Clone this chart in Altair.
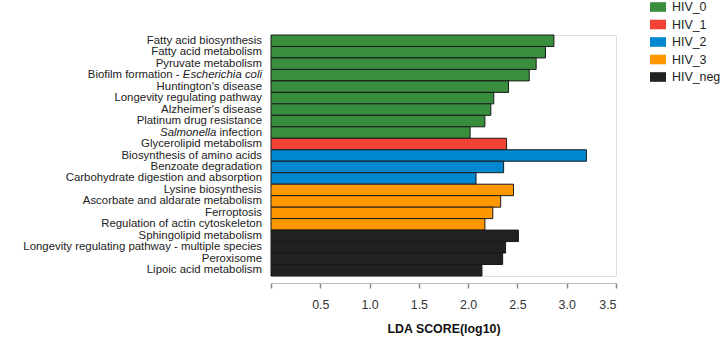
import altair as alt
import pandas as pd

# LEfSe results: pathway, enriched group and LDA score (log10)
pathways = [
    "Fatty acid biosynthesis",
    "Fatty acid metabolism",
    "Pyruvate metabolism",
    "Biofilm formation - Escherichia coli",
    "Huntington's disease",
    "Longevity regulating pathway",
    "Alzheimer's disease",
    "Platinum drug resistance",
    "Salmonella infection",
    "Glycerolipid metabolism",
    "Biosynthesis of amino acids",
    "Benzoate degradation",
    "Carbohydrate digestion and absorption",
    "Lysine biosynthesis",
    "Ascorbate and aldarate metabolism",
    "Ferroptosis",
    "Regulation of actin cytoskeleton",
    "Sphingolipid metabolism",
    "Longevity regulating pathway - multiple species",
    "Peroxisome",
    "Lipoic acid metabolism",
]
groups = (["HIV_0"] * 9 + ["HIV_1"] + ["HIV_2"] * 3 + ["HIV_3"] * 4 + ["HIV_neg"] * 4)
lda_scores = [
    2.87, 2.785, 2.69, 2.62, 2.41, 2.26, 2.23, 2.17, 2.02,
    2.39,
    3.20, 2.36, 2.08,
    2.46, 2.33, 2.25, 2.17,
    2.51, 2.38, 2.35, 2.14,
]

group_names = ["HIV_0", "HIV_1", "HIV_2", "HIV_3", "HIV_neg"]
group_colors = ["#388E3C", "#F44336", "#0288D1", "#FF9800", "#212121"]
tick_values = [0, 0.5, 1.0, 1.5, 2.0, 2.5, 3.0, 3.5]

# label pieces: species names in italics
ecoli_lead, ecoli_tail = "Biofilm formation -", "Escherichia coli"
salm_lead, salm_tail = "Salmonella", "infection"

df = pd.DataFrame({"pathway": pathways, "group": groups, "lda": lda_scores})
df["tail"] = df["pathway"]
df.loc[df["pathway"] == pathways[3], "tail"] = ecoli_tail
df.loc[df["pathway"] == pathways[8], "tail"] = salm_tail
df["tail_italic"] = df["pathway"] == pathways[3]

FONT = "Liberation Sans"
FS = 12.4          # axis and legend text
LFS = 11.4         # pathway labels
W, H = 345, 241
LABEL_X = -9

y_enc = alt.Y("pathway:N", sort=pathways, axis=None,
              scale=alt.Scale(paddingInner=0, paddingOuter=0))

bars = alt.Chart(df).mark_bar(stroke="#1a1a1a", strokeWidth=1).encode(
    x=alt.X(
        "lda:Q",
        scale=alt.Scale(domain=[0, 3.5], nice=False, zero=True),
        axis=alt.Axis(
            values=tick_values,
            labelExpr="datum.value == 0 ? '' : format(datum.value, '.1f')",
            title="LDA SCORE(log10)",
            titleFont=FONT, titleFontSize=FS, titleFontWeight="bold",
            titleColor="#111", titlePadding=12,
            labelFont=FONT, labelFontSize=FS, labelColor="#333",
            labelPadding=10,
            domainColor="#bbbbbb", domainWidth=1.2,
            tickColor="#888888", tickSize=5, tickWidth=1.5,
            grid=False, offset=7,
        ),
    ),
    y=y_enc,
    color=alt.Color(
        "group:N",
        scale=alt.Scale(domain=group_names, range=group_colors),
        legend=alt.Legend(
            title=None, orient="none", legendX=379, legendY=-36,
            padding=0,
            symbolType="M-1,-0.6H1V0.6H-1Z", symbolSize=256,
            symbolStrokeWidth=0, symbolOpacity=1,
            labelFont=FONT, labelFontSize=FS, labelColor="#222",
            labelOffset=6, rowPadding=2.5,
        ),
    ),
)

base_text = alt.Chart(df)

tails_plain = base_text.transform_filter("!datum.tail_italic").mark_text(
    align="right", baseline="middle", font=FONT, fontSize=LFS, color="#222"
).encode(y=y_enc, x=alt.value(LABEL_X), text="tail:N")

tails_italic = base_text.transform_filter("datum.tail_italic").mark_text(
    align="right", baseline="middle", font=FONT, fontSize=LFS,
    fontStyle="italic", color="#222"
).encode(y=y_enc, x=alt.value(LABEL_X), text="tail:N")

ecoli_prefix = base_text.transform_filter(
    alt.datum.pathway == pathways[3]
).mark_text(
    align="right", baseline="middle", font=FONT, fontSize=LFS, color="#222",
    text=ecoli_lead,
).encode(y=y_enc, x=alt.value(LABEL_X - 82.4))

salm_prefix = base_text.transform_filter(
    alt.datum.pathway == pathways[8]
).mark_text(
    align="right", baseline="middle", font=FONT, fontSize=LFS,
    fontStyle="italic", color="#222", text=salm_lead,
).encode(y=y_enc, x=alt.value(LABEL_X - 45.6))

chart = alt.layer(
    bars, tails_plain, tails_italic, ecoli_prefix, salm_prefix
).properties(
    width=W, height=H,
    padding={"left": 271, "top": 35, "right": 721 - 271 - W, "bottom": 339 - 35 - H},
    autosize=alt.AutoSizeParams(type="none"),
).configure_view(stroke=None).configure(background="white")

chart.save("out.html", embed_options={"renderer": "svg", "actions": False})
